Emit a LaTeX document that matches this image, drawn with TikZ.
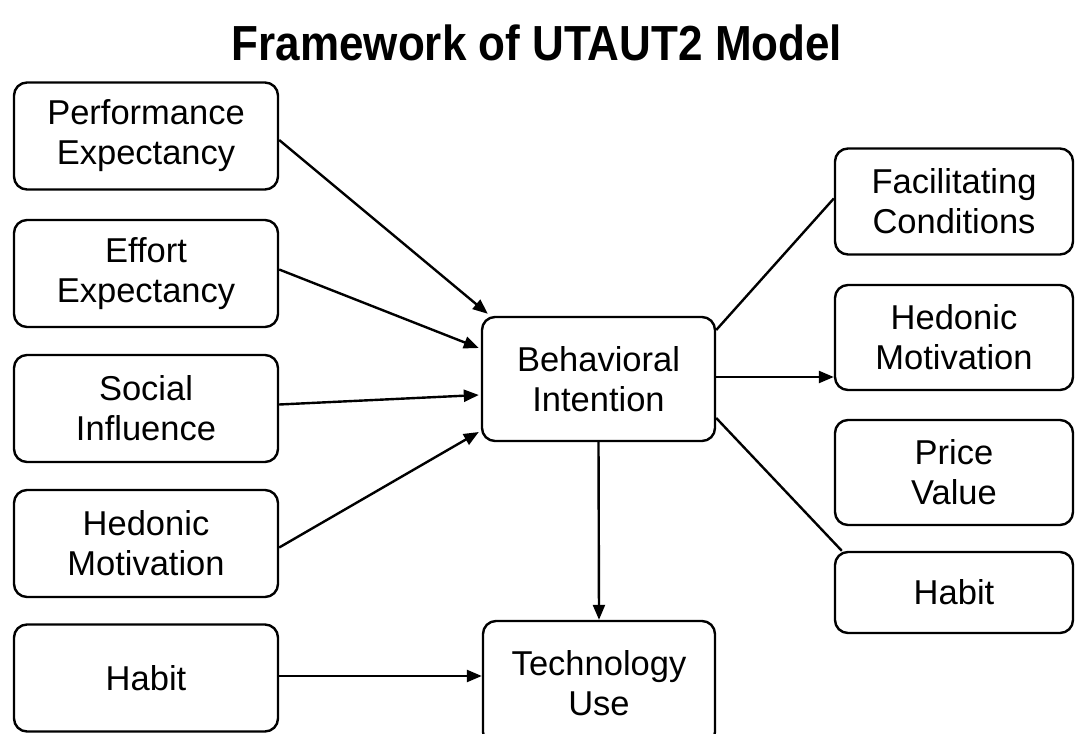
\documentclass[tikz,border=0pt]{standalone}
\usepackage{fontspec}
\usepackage{graphicx}
\setmainfont{Liberation Sans}
\usetikzlibrary{arrows.meta}
\begin{document}
\begin{tikzpicture}[x=1pt, y=-1pt,
  box/.style={draw, line width=2.4pt, rounded corners=13pt, align=center,
    inner sep=0pt, font=\fontsize{34.5}{40}\selectfont},
  leftbox/.style={box, minimum width=264pt, minimum height=107pt},
  rightbox/.style={box, minimum width=238pt, minimum height=106pt},
  link/.style={line width=2.4pt},
  arr/.style={link, -{Triangle[length=15pt, width=12pt]}}]

\useasboundingbox (0,0) rectangle (1075,733);
\clip (0,0) rectangle (1075,733);
\fill[white] (0,0) rectangle (1075,733);

% title
\node[font=\bfseries\fontsize{44}{50}\selectfont, anchor=base, inner sep=0pt] (title) at (537,61)
  {\scalebox{1}[1.12]{Framework of UTAUT2 Model}};

% left column
\node[leftbox] (pe)  at (146,136)   {Performance\\Expectancy};
\node[leftbox] (ee)  at (146,273.5) {Effort\\Expectancy};
\node[leftbox] (si)  at (146,408.5) {Social\\Influence};
\node[leftbox] (hml) at (146,543.5) {Hedonic\\Motivation};
\node[leftbox] (hbl) at (146,678)   {Habit};

% centre
\node[box, minimum width=233pt, minimum height=124pt] (bi) at (598.5,379) {Behavioral\\Intention};
\node[box, minimum width=232pt, minimum height=124pt] (tu) at (599,683) {Technology\\Use};

% right column
\node[rightbox] (fc)  at (954,201.5) {Facilitating\\Conditions};
\node[rightbox, minimum height=105pt] (hmr) at (954,337.5) {Hedonic\\Motivation};
\node[rightbox, minimum height=105pt] (pv)  at (954,472.5) {Price\\Value};
\node[rightbox, minimum height=81pt]  (hbr) at (954,592.5) {Habit};

% connectors into Behavioral Intention
\draw[arr] ([yshift=-4pt]pe.east) -- ([xshift=7pt,yshift=2pt]bi.north west);
\draw[arr] ([yshift=4pt]ee.east) -- ([xshift=-2pt,yshift=31pt]bi.west);
\draw[arr] ([yshift=4pt]si.east) -- ([xshift=-2pt,yshift=-16pt]bi.west);
\draw[arr] ([yshift=-4pt]hml.east) -- ([xshift=-2pt,yshift=-53pt]bi.west);

% connectors into Technology Use
\draw[arr] (bi.south) -- (tu.north);
\draw[arr] ([yshift=2pt]hbl.east) -- ([yshift=2pt]hbl.east -| tu.west);

% connectors out to the right column
\draw[link] ([yshift=49pt]bi.east) -- ([yshift=3pt]fc.west);
\draw[arr] ([yshift=2pt]bi.east) -- ([yshift=2pt]bi.east -| hmr.west);
\draw[link] ([yshift=-39pt]bi.east) -- ([xshift=8pt]hbr.north west);

\end{tikzpicture}
\end{document}
